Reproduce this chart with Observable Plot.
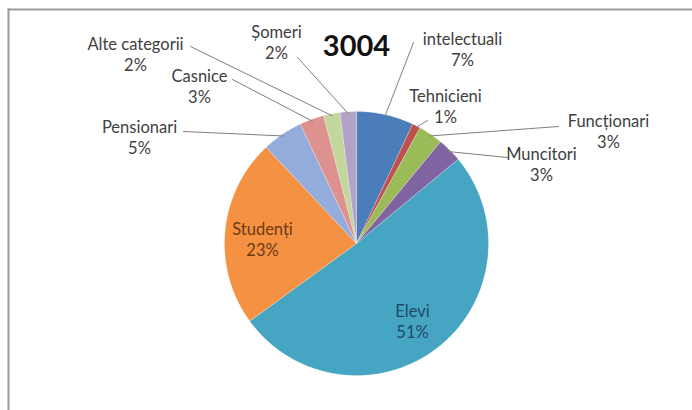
<!DOCTYPE html>
<html><head><meta charset="utf-8">
<script src="https://cdn.jsdelivr.net/npm/d3@7"></script>
<script src="https://cdn.jsdelivr.net/npm/@observablehq/plot@0.6"></script>
<style>body{margin:0;background:#fff}#chart svg{display:block}</style>
</head><body><div id="chart"></div>
<script>
// ---- data ----
const categories = ["intelectuali","Tehnicieni","Funcționari","Muncitori","Elevi","Studenți","Pensionari","Casnice","Alte categorii","Șomeri"];
const shares = [7, 1, 3, 3, 51, 23, 5, 3, 2, 2];
const pctLabels = ["7%","1%","3%","3%","51%","23%","5%","3%","2%","2%"];
const title = "3004";

// ---- styles ----
const sliceColors = ["#4A7DBA","#C0504D","#9BBB59","#8064A2","#46A5C2","#F59143","#93ACDC","#DE9290","#C3D69B","#B3A2C7"];
const labelColors = ["#404040","#404040","#404040","#404040","#1F4A6A","#6B3A14","#404040","#404040","#404040","#404040"];

// ---- layout ----
const W = 692, H = 410, cx = 356, cy = 243, R = 132;
const labelAt = [[462,48],[445,105],[608,130],[541,163],[412,320],[262,238],[139,136],[199,85],[135,53],[276,41]];
const leaderFrom = [[413,42],[427,120],[558,126],[507,157],null,null,[183,131],[232,79],[190,46],[297,57]];

const arcs = d3.pie().sort(null).value(d => d)(shares);
const pt = (a, r) => [cx + r * Math.sin(a), cy - r * Math.cos(a)];

const slicePts = [];
arcs.forEach((a, i) => {
  const cat = categories[i];
  slicePts.push({cat, x: cx, y: cy});
  const n = Math.max(2, Math.ceil((a.endAngle - a.startAngle) / 0.01));
  for (let k = 0; k <= n; k++) {
    const [x, y] = pt(a.startAngle + (a.endAngle - a.startAngle) * k / n, R);
    slicePts.push({cat, x, y});
  }
  slicePts.push({cat, x: cx, y: cy});
});

const leaderPts = [];
arcs.forEach((a, i) => {
  if (!leaderFrom[i]) return;
  const [x, y] = pt((a.startAngle + a.endAngle) / 2, R - 2);
  leaderPts.push({cat: categories[i], x: leaderFrom[i][0], y: leaderFrom[i][1]});
  leaderPts.push({cat: categories[i], x, y});
});

const labels = categories.map((c, i) => ({cat: c, text: c + "\n" + pctLabels[i], x: labelAt[i][0], y: labelAt[i][1], color: labelColors[i]}));

const chart = Plot.plot({
  width: W, height: H,
  marginTop: 9, marginLeft: 8, marginRight: 0, marginBottom: 0,
  x: {domain: [8, W], axis: null},
  y: {domain: [9, H], reverse: true, axis: null},
  color: {domain: categories, range: sliceColors},
  style: {fontFamily: "Lato, sans-serif", background: "#fff"},
  marks: [
    Plot.frame({anchor: "top", stroke: "#9a9a9a", strokeWidth: 2}),
    Plot.frame({anchor: "left", stroke: "#9a9a9a", strokeWidth: 2}),
    Plot.line(slicePts, {x: "x", y: "y", z: "cat", fill: "cat", stroke: "#fff", strokeWidth: 0.4, strokeOpacity: 0.6, curve: "linear"}),
    Plot.line(leaderPts, {x: "x", y: "y", z: "cat", stroke: "#7f7f7f", strokeWidth: 1}),
    Plot.text(labels, {x: "x", y: "y", text: "text", fill: "color", fontSize: 16.5, lineHeight: 1.3, textAnchor: "middle"}),
    Plot.text([title], {x: [cx], y: [46], text: d => d, fontSize: 29, fontWeight: "bold", fill: "#111"})
  ]
});
document.getElementById("chart").append(chart);
</script>
</body></html>
